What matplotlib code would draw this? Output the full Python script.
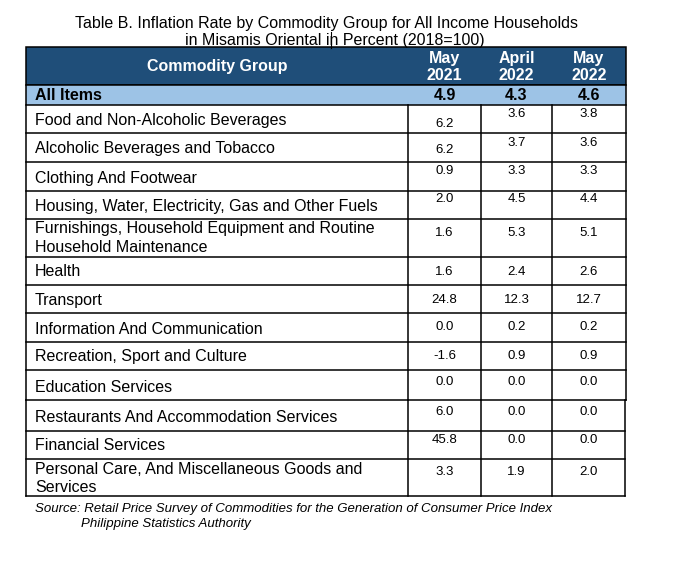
import matplotlib.pyplot as plt
from matplotlib.patches import Rectangle

plt.rcParams['font.family'] = ['Liberation Sans', 'DejaVu Sans']

title_1 = "Table B. Inflation Rate by Commodity Group for All Income Households"
title_2 = "in Misamis Oriental in Percent (2018=100)"
periods = ["May\n2021", "April\n2022", "May\n2022"]
all_items = ["4.9", "4.3", "4.6"]

groups = [
    "Food and Non-Alcoholic Beverages",
    "Alcoholic Beverages and Tobacco",
    "Clothing And Footwear",
    "Housing, Water, Electricity, Gas and Other Fuels",
    "Furnishings, Household Equipment and Routine\nHousehold Maintenance",
    "Health",
    "Transport",
    "Information And Communication",
    "Recreation, Sport and Culture",
    "Education Services",
    "Restaurants And Accommodation Services",
    "Financial Services",
    "Personal Care, And Miscellaneous Goods and\nServices",
]
may_2021 = ["6.2", "6.2", "0.9", "2.0", "1.6", "1.6", "24.8", "0.0", "-1.6", "0.0", "6.0", "45.8", "3.3"]
apr_2022 = ["3.6", "3.7", "3.3", "4.5", "5.3", "2.4", "12.3", "0.2", "0.9", "0.0", "0.0", "0.0", "1.9"]
may_2022 = ["3.8", "3.6", "3.3", "4.4", "5.1", "2.6", "12.7", "0.2", "0.9", "0.0", "0.0", "0.0", "2.0"]

source_1 = "Source: Retail Price Survey of Commodities for the Generation of Consumer Price Index"
source_2 = "Philippine Statistics Authority"

# layout (pixels)
col_x = [26, 408, 481, 552, 626]
row_y = [105, 133, 162, 191, 219, 257, 285, 313, 342, 370, 400, 431, 459, 496]
head_top, head_bot = 47, 85
# value offsets from row top: (first column, other columns)
val_off = [(19, 9), (17, 10), (9, 9), (8, 8), (14, 14), (15, 15), (15, 15),
           (14, 14), (14, 14), (12, 12), (12, 12), (9, 9), (13, 13)]

dark = "#1F4E79"
light = "#9DC3E6"
lw = 1.1
fs = 11.5
fs_val = 9.5

fig = plt.figure(figsize=(6.91, 5.65), dpi=100)
ax = fig.add_axes([0, 0, 1, 1])
ax.set_xlim(0, 691)
ax.set_ylim(565, 0)
ax.axis('off')

# title
ax.text(327, 28, title_1, ha='center', va='baseline', fontsize=fs)
t2 = ax.text(335, 45, title_2, ha='center', va='baseline', fontsize=fs)

# the stray text cursor inside "in" of the second title line
fig.canvas.draw()
r = fig.canvas.get_renderer()
full = t2.get_window_extent(r)
tmp = ax.text(0, 0, "in Misamis Oriental i", fontsize=fs)
part = tmp.get_window_extent(r)
tmp.remove()
cur_x = ax.transData.inverted().transform((full.x0 + part.width, 0))[0]
ax.plot([cur_x + 1, cur_x + 1], [32, 48], color='black', lw=0.8)

# header
ax.add_patch(Rectangle((col_x[0], head_top), col_x[-1] - col_x[0], head_bot - head_top,
                       facecolor=dark, edgecolor='black', lw=lw))
ax.text((col_x[0] + col_x[1]) / 2, (head_top + head_bot) / 2 + 1, "Commodity Group",
        ha='center', va='center', fontsize=fs, fontweight='bold', color='white')
for i, p in enumerate(periods):
    cx = (col_x[i + 1] + col_x[i + 2]) / 2
    top, bot = p.split("\n")
    ax.text(cx, 58, top, ha='center', va='center', fontsize=fs, fontweight='bold', color='white')
    ax.text(cx, 76, bot, ha='center', va='center', fontsize=fs, fontweight='bold', color='white')

# all items row
ax.add_patch(Rectangle((col_x[0], head_bot), col_x[-1] - col_x[0], row_y[0] - head_bot,
                       facecolor=light, edgecolor='black', lw=lw))
ax.text(35, 95, "All Items", ha='left', va='center', fontsize=fs, fontweight='bold')
for i, v in enumerate(all_items):
    cx = (col_x[i + 1] + col_x[i + 2]) / 2
    ax.text(cx, 95, v, ha='center', va='center', fontsize=fs, fontweight='bold')

# body rows
tops = row_y[:-1]
bots = row_y[1:]
for r_i, name in enumerate(groups):
    top, bot = tops[r_i], bots[r_i]
    right = col_x[-1] if r_i < 10 else col_x[-1] - 1
    ax.plot([col_x[0], right], [bot, bot], color='black', lw=lw)
    if "\n" in name:
        l1, l2 = name.split("\n")
        ax.text(35, top + 10, l1, ha='left', va='center', fontsize=fs)
        ax.text(35, top + 28, l2, ha='left', va='center', fontsize=fs)
    else:
        ax.text(35, bot - 13, name, ha='left', va='center', fontsize=fs)
    vals = [may_2021[r_i], apr_2022[r_i], may_2022[r_i]]
    for c, v in enumerate(vals):
        cx = (col_x[c + 1] + col_x[c + 2]) / 2
        off = val_off[r_i][0] if c == 0 else val_off[r_i][1]
        ax.text(cx, top + off, v, ha='center', va='center', fontsize=fs_val)

# vertical lines
for i, x in enumerate(col_x):
    ax.plot([x, x], [row_y[0], row_y[10]], color='black', lw=lw)
    x2 = x - 1 if i == 4 else x
    ax.plot([x2, x2], [row_y[10], row_y[-1]], color='black', lw=lw)

# source
ax.text(35, 509, source_1, ha='left', va='center', fontsize=9.5, style='italic')
ax.text(81, 524, source_2, ha='left', va='center', fontsize=9.5, style='italic')

fig.savefig("out.png", dpi=100)
